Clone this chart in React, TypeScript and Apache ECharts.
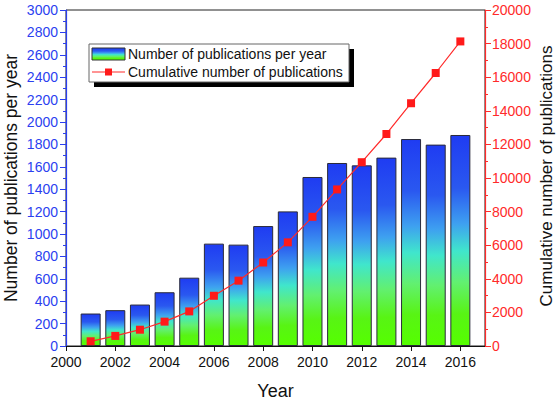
import React, { useEffect, useRef } from "react";
import * as echarts from "echarts";

const years = [2001, 2002, 2003, 2004, 2005, 2006, 2007, 2008, 2009, 2010, 2011, 2012, 2013, 2014, 2015, 2016];
const perYear = [290, 320, 370, 480, 610, 914, 905, 1071, 1202, 1509, 1634, 1613, 1682, 1848, 1798, 1884];
const cumulative = [280, 600, 970, 1450, 2060, 2990, 3890, 4970, 6170, 7690, 9320, 10940, 12620, 14450, 16250, 18130];
const barLegend = "Number of publications per year";
const lineLegend = "Cumulative number of publications";
const leftTitle = "Number of publications per year";
const rightTitle = "Cumulative number of publications";

const FONT = "Arial, 'Liberation Sans', Helvetica, sans-serif";
const BLUE = "#2b3ff0";
const RED = "#ff2a2a";

const gradStops = [
  { offset: 0, color: "#1f3cf2" },
  { offset: 0.25, color: "#2a58f0" },
  { offset: 0.42, color: "#3ea0f0" },
  { offset: 0.55, color: "#40e6cc" },
  { offset: 0.7, color: "#62f070" },
  { offset: 0.85, color: "#58f414" },
  { offset: 1, color: "#55ff00" },
];

const plain = (v: number) => String(v);

export default function App() {
  const ref = useRef<HTMLDivElement>(null);
  useEffect(() => {
    if (!ref.current) return;
    const chart = echarts.init(ref.current, null, { renderer: "svg" });
    chart.setOption({
      animation: false,
      backgroundColor: "#ffffff",
      textStyle: { fontFamily: FONT },
      grid: {
        left: 66,
        right: 73,
        top: 10,
        bottom: 54,
        containLabel: false,
        outerBoundsMode: "none",
        show: true,
        borderColor: "#222",
        borderWidth: 1,
        backgroundColor: "transparent",
      },
      xAxis: {
        type: "value",
        min: 2000,
        max: 2017,
        interval: 2,
        name: "Year",
        nameLocation: "middle",
        nameGap: 36,
        nameTextStyle: { fontFamily: FONT, fontSize: 18, color: "#111" },
        axisLine: { lineStyle: { color: "#111", width: 1 } },
        axisTick: { show: true, length: 5, lineStyle: { color: "#111" } },
        axisLabel: {
          fontFamily: FONT,
          fontSize: 14,
          color: "#111",
          margin: 9,
          showMaxLabel: false,
          formatter: plain,
        },
        splitLine: { show: false },
      },
      yAxis: [
        {
          type: "value",
          min: 0,
          max: 3000,
          interval: 200,
          axisLine: { show: true, lineStyle: { color: BLUE, width: 1.2 } },
          axisTick: { show: true, length: 6, lineStyle: { color: BLUE } },
          minorTick: { show: true, splitNumber: 2, length: 3, lineStyle: { color: BLUE } },
          axisLabel: { fontFamily: FONT, fontSize: 14, color: BLUE, margin: 8, formatter: plain },
          splitLine: { show: false },
        },
        {
          type: "value",
          min: 0,
          max: 20000,
          interval: 2000,
          position: "right",
          axisLine: { show: true, lineStyle: { color: RED, width: 1.2 } },
          axisTick: { show: true, length: 6, lineStyle: { color: RED } },
          minorTick: { show: true, splitNumber: 2, length: 3, lineStyle: { color: RED } },
          axisLabel: { fontFamily: FONT, fontSize: 14, color: RED, margin: 7, formatter: plain },
          splitLine: { show: false },
        },
      ],
      series: [
        {
          name: barLegend,
          type: "bar",
          yAxisIndex: 0,
          barWidth: 20,
          data: years.map((y, i) => [y, perYear[i]]),
          itemStyle: {
            color: new echarts.graphic.LinearGradient(0, 0, 0, 1, gradStops),
            borderColor: "#2a2a3a",
            borderWidth: 1,
          },
          z: 2,
        },
        {
          name: lineLegend,
          type: "line",
          yAxisIndex: 1,
          data: years.map((y, i) => [y, cumulative[i]]),
          symbol: "rect",
          symbolSize: 8,
          lineStyle: { color: RED, width: 1.2 },
          itemStyle: { color: "#ff1a1a" },
          z: 5,
        },
      ],
      graphic: [
        {
          type: "text",
          x: 11,
          y: 178,
          rotation: Math.PI / 2,
          style: {
            text: leftTitle,
            fontFamily: FONT,
            fontSize: 17.5,
            fill: "#111",
            align: "center",
            verticalAlign: "middle",
          },
          z: 12,
        },
        {
          type: "text",
          x: 546,
          y: 176,
          rotation: Math.PI / 2,
          style: {
            text: rightTitle,
            fontFamily: FONT,
            fontSize: 17,
            fill: "#111",
            align: "center",
            verticalAlign: "middle",
          },
          z: 12,
        },
        { type: "rect", shape: { x: 94, y: 49, width: 260, height: 38 }, style: { fill: "#000" }, z: 10 },
        {
          type: "rect",
          shape: { x: 89, y: 44, width: 260, height: 38 },
          style: { fill: "#fff", stroke: "#666", lineWidth: 1 },
          z: 11,
        },
        {
          type: "rect",
          shape: { x: 92, y: 48, width: 33, height: 12 },
          style: {
            fill: { type: "linear", x: 0, y: 0, x2: 0, y2: 1, colorStops: gradStops },
            stroke: "#333",
            lineWidth: 1,
          },
          z: 12,
        },
        {
          type: "text",
          x: 128,
          y: 54,
          style: { text: barLegend, fontFamily: FONT, fontSize: 14, fill: "#111", verticalAlign: "middle" },
          z: 12,
        },
        {
          type: "line",
          shape: { x1: 92, y1: 72, x2: 125, y2: 72 },
          style: { stroke: RED, lineWidth: 1.2 },
          z: 12,
        },
        { type: "rect", shape: { x: 105, y: 68.5, width: 7, height: 7 }, style: { fill: "#ff1a1a" }, z: 13 },
        {
          type: "text",
          x: 128,
          y: 72,
          style: { text: lineLegend, fontFamily: FONT, fontSize: 14, fill: "#111", verticalAlign: "middle" },
          z: 12,
        },
      ],
    });
    return () => chart.dispose();
  }, []);
  return <div ref={ref} style={{ width: 558, height: 400, position: "absolute", left: 0, top: 0 }} />;
}
